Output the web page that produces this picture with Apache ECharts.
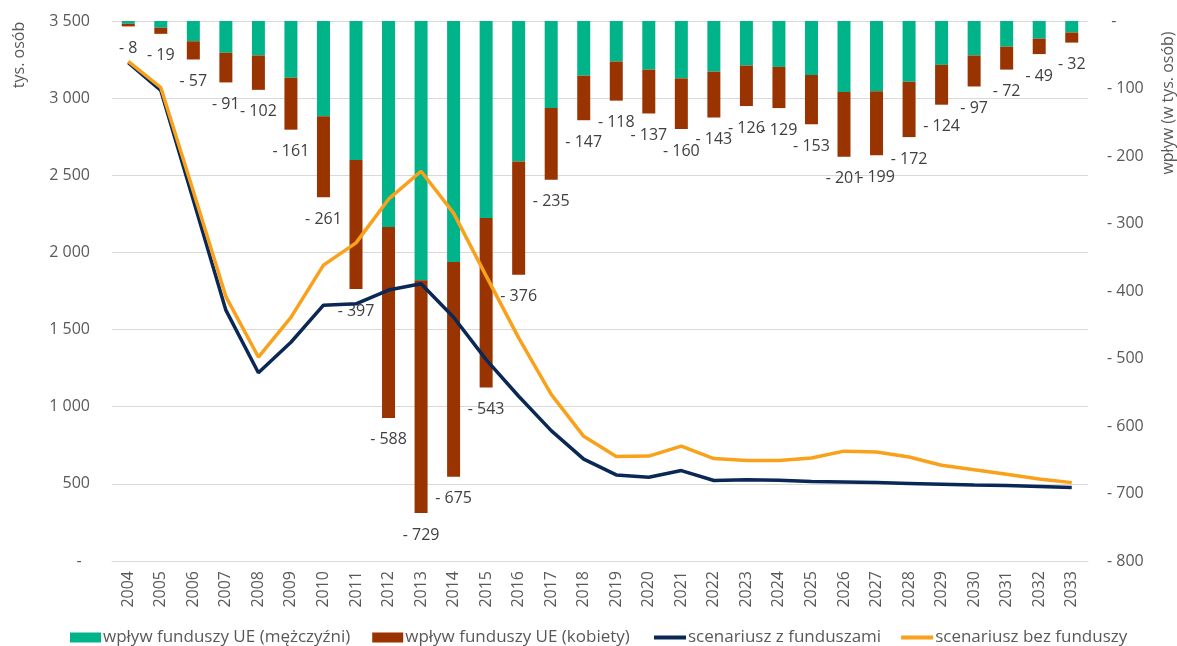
<!DOCTYPE html>
<html>
<head>
<meta charset="utf-8">
<script src="https://cdn.jsdelivr.net/npm/echarts@6/dist/echarts.min.js"></script>
<style>
    html, body { margin: 0; padding: 0; background: #fff; }
    #chart { width: 1177px; height: 646px; }
</style>
</head>
<body>
<div id="chart"></div>
<script>
// data
const years = ['2004', '2005', '2006', '2007', '2008', '2009', '2010', '2011', '2012', '2013',
    '2014', '2015', '2016', '2017', '2018', '2019', '2020', '2021', '2022', '2023',
    '2024', '2025', '2026', '2027', '2028', '2029', '2030', '2031', '2032', '2033'];
const menImpact = [4, 10, 30, 47, 51, 84, 141, 206, 305, 384, 357, 292, 208, 129, 81,
    60, 72, 85, 75, 66, 68, 80, 105, 104, 90, 65, 51, 38, 26, 17];
const womenImpact = [4, 9, 27, 44, 51, 77, 120, 191, 283, 345, 318, 251, 168, 106, 66,
    58, 65, 75, 68, 60, 61, 73, 96, 95, 82, 59, 46, 34, 23, 15];
const withFunds = [3230, 3050, 2340, 1626, 1220, 1418, 1658, 1667, 1756, 1797, 1580, 1305, 1068, 845, 660,
    558, 543, 586, 522, 527, 523, 515, 512, 508, 503, 498, 493, 489, 483, 476];
const withoutFunds = [3238, 3069, 2397, 1714, 1322, 1579, 1918, 2062, 2345, 2526, 2255, 1848, 1446, 1080, 808,
    677, 680, 745, 664, 652, 652, 668, 712, 707, 674, 621, 591, 562, 532, 508];

var chartDom = document.getElementById('chart');
var myChart = echarts.init(chartDom, null, {renderer: 'canvas'});
var font = '"Open Sans", sans-serif';
var textColor = '#595959';

function spaced(v) {
    return String(v).replace(/\B(?=(\d{3})+(?!\d))/g, ' ');
}

var legendText = {color: textColor, fontSize: 17, fontFamily: font, padding: [0, 0, 0, -3]};

var option = {
    animation: false,
    textStyle: {fontFamily: font},
    grid: {left: 112, right: 89, top: 21, bottom: 85},
    legend: [
        {
            bottom: -5,
            left: 65,
            itemWidth: 31,
            itemHeight: 10,
            itemGap: 22,
            textStyle: legendText,
            data: [
                {name: 'wpływ funduszy UE (mężczyźni)', icon: 'rect'},
                {name: 'wpływ funduszy UE (kobiety)', icon: 'rect'}
            ]
        },
        {
            bottom: -5,
            left: 649,
            itemWidth: 32,
            itemHeight: 4,
            itemGap: 20,
            textStyle: legendText,
            data: [
                {name: 'scenariusz z funduszami', icon: 'rect'},
                {name: 'scenariusz bez funduszy', icon: 'rect'}
            ]
        }
    ],
    graphic: [
        {
            type: 'text', x: 19, y: 55, rotation: Math.PI / 2,
            style: {text: 'tys. osób', fill: textColor, font: '16px ' + font, align: 'center', verticalAlign: 'middle'}
        },
        {
            type: 'text', x: 1168, y: 103, rotation: Math.PI / 2,
            style: {text: 'wpływ (w tys. osób)', fill: textColor, font: '16px ' + font, align: 'center', verticalAlign: 'middle'}
        }
    ],
    xAxis: {
        type: 'category',
        data: years,
        axisLine: {lineStyle: {color: '#d9d9d9'}},
        axisTick: {show: false},
        axisLabel: {rotate: 90, color: textColor, fontSize: 16, margin: 10, fontFamily: font}
    },
    yAxis: [
        {
            type: 'value',
            min: 0,
            max: 3500,
            interval: 500,
            axisLine: {show: false},
            axisTick: {show: false},
            splitLine: {lineStyle: {color: '#d9d9d9', width: 1}},
            axisLabel: {
                color: textColor, fontSize: 16, margin: 22, fontFamily: font,
                formatter: function (v) { return v === 0 ? '-  ' : spaced(v); }
            }
        },
        {
            type: 'value',
            inverse: true,
            min: 0,
            max: 800,
            interval: 100,
            axisLine: {show: false},
            axisTick: {show: false},
            splitLine: {show: false},
            axisLabel: {
                color: textColor, fontSize: 16, margin: 19, fontFamily: font,
                formatter: function (v) { return v === 0 ? ' -' : '- ' + v; }
            }
        }
    ],
    series: [
        {
            name: 'wpływ funduszy UE (mężczyźni)',
            type: 'bar',
            yAxisIndex: 1,
            stack: 'impact',
            barWidth: 13,
            itemStyle: {color: '#00B388'},
            data: menImpact
        },
        {
            name: 'wpływ funduszy UE (kobiety)',
            type: 'bar',
            yAxisIndex: 1,
            stack: 'impact',
            barWidth: 13,
            itemStyle: {color: '#993300'},
            label: {
                show: true,
                position: 'bottom',
                distance: 14,
                color: '#404040',
                fontSize: 16,
                fontFamily: font,
                formatter: function (p) {
                    return '- ' + (menImpact[p.dataIndex] + womenImpact[p.dataIndex]);
                }
            },
            data: womenImpact
        },
        {
            name: 'scenariusz z funduszami',
            type: 'line',
            symbol: 'none',
            lineStyle: {color: '#0A2856', width: 3.5},
            itemStyle: {color: '#0A2856'},
            z: 3,
            data: withFunds
        },
        {
            name: 'scenariusz bez funduszy',
            type: 'line',
            symbol: 'none',
            lineStyle: {color: '#F9A11B', width: 3.5},
            itemStyle: {color: '#F9A11B'},
            z: 3,
            data: withoutFunds
        }
    ]
};

option && myChart.setOption(option);
</script>
</body>
</html>
